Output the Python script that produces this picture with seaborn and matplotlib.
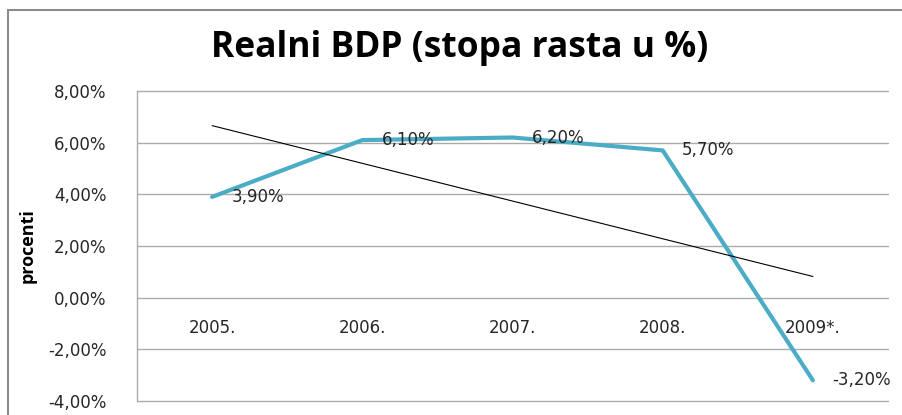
import numpy as np
import pandas as pd
import matplotlib
matplotlib.use("Agg")
import matplotlib.pyplot as plt
from matplotlib.patches import Rectangle
from matplotlib.ticker import FuncFormatter
import seaborn as sns

# ---- data ----
years = ["2005.", "2006.", "2007.", "2008.", "2009*."]
growth = [3.9, 6.1, 6.2, 5.7, -3.2]
point_labels = ["3,90%", "6,10%", "6,20%", "5,70%", "-3,20%"]
title = "Realni BDP (stopa rasta u %)"
ylabel = "procenti"

sns.set_theme(style="white")
plt.rcParams["font.family"] = ["DejaVu Sans"]

W, H = 903, 415
fig = plt.figure(figsize=(W / 100, H / 100), dpi=100)
ax = fig.add_axes([137 / W, (H - 401) / H, (888 - 137) / W, (401 - 91) / H])

df = pd.DataFrame({"year": years, "growth": growth})
line_color = "#4BACC6"
sns.lineplot(data=df, x="year", y="growth", ax=ax, color=line_color,
             linewidth=3.0, sort=False)

# linear trend line
pos = np.arange(len(years))
k, b = np.polyfit(pos, growth, 1)
ax.plot(pos, k * pos + b, color="black", linewidth=0.8)

# data labels
for i, (v, lab) in enumerate(zip(growth, point_labels)):
    ax.annotate(lab, (i, v), xytext=(14, 0), textcoords="offset points",
                ha="left", va="center", fontsize=12, color="#262626")

ax.set_xlim(-0.5, len(years) - 0.5)
ax.set_ylim(-4, 8)
ax.set_yticks(np.arange(-4, 8.01, 2))
ax.yaxis.set_major_formatter(FuncFormatter(lambda v, p: f"{v:.2f}%".replace(".", ",")))
ax.grid(axis="y", color="#ABABAB", linewidth=1.0)
ax.grid(axis="x", visible=False)
for gl in ax.get_ygridlines():
    gl.set_clip_on(False)

# category labels at the zero line
ax.spines["bottom"].set_position(("data", 0))
ax.spines["bottom"].set_visible(False)
ax.spines["top"].set_visible(False)
ax.spines["right"].set_visible(False)
ax.spines["left"].set_color("#ABABAB")
ax.spines["left"].set_linewidth(1.0)
ax.set_xticks(pos)
ax.set_xticklabels(years)
ax.tick_params(axis="x", length=0, pad=15, labelsize=12, labelcolor="#262626")
ax.tick_params(axis="y", length=0, pad=22, labelsize=12, labelcolor="#262626")
ax.set_xlabel("")
ax.set_ylabel(ylabel, fontsize=13, fontweight="bold", family="Open Sans",
              labelpad=8, color="black")

fig.text(460 / W, 1 - 48 / H, title, ha="center", va="center",
         fontsize=25.5, fontweight="bold", family="Open Sans", color="black")

# outer chart frame (left and top edges visible)
fig.patches.append(Rectangle((8 / W, -0.2), 1.2, 1 - 10 / H + 0.2,
                             transform=fig.transFigure, fill=False,
                             edgecolor="#8C8C8C", linewidth=1.5, zorder=0))

fig.savefig("out.png", dpi=100)
